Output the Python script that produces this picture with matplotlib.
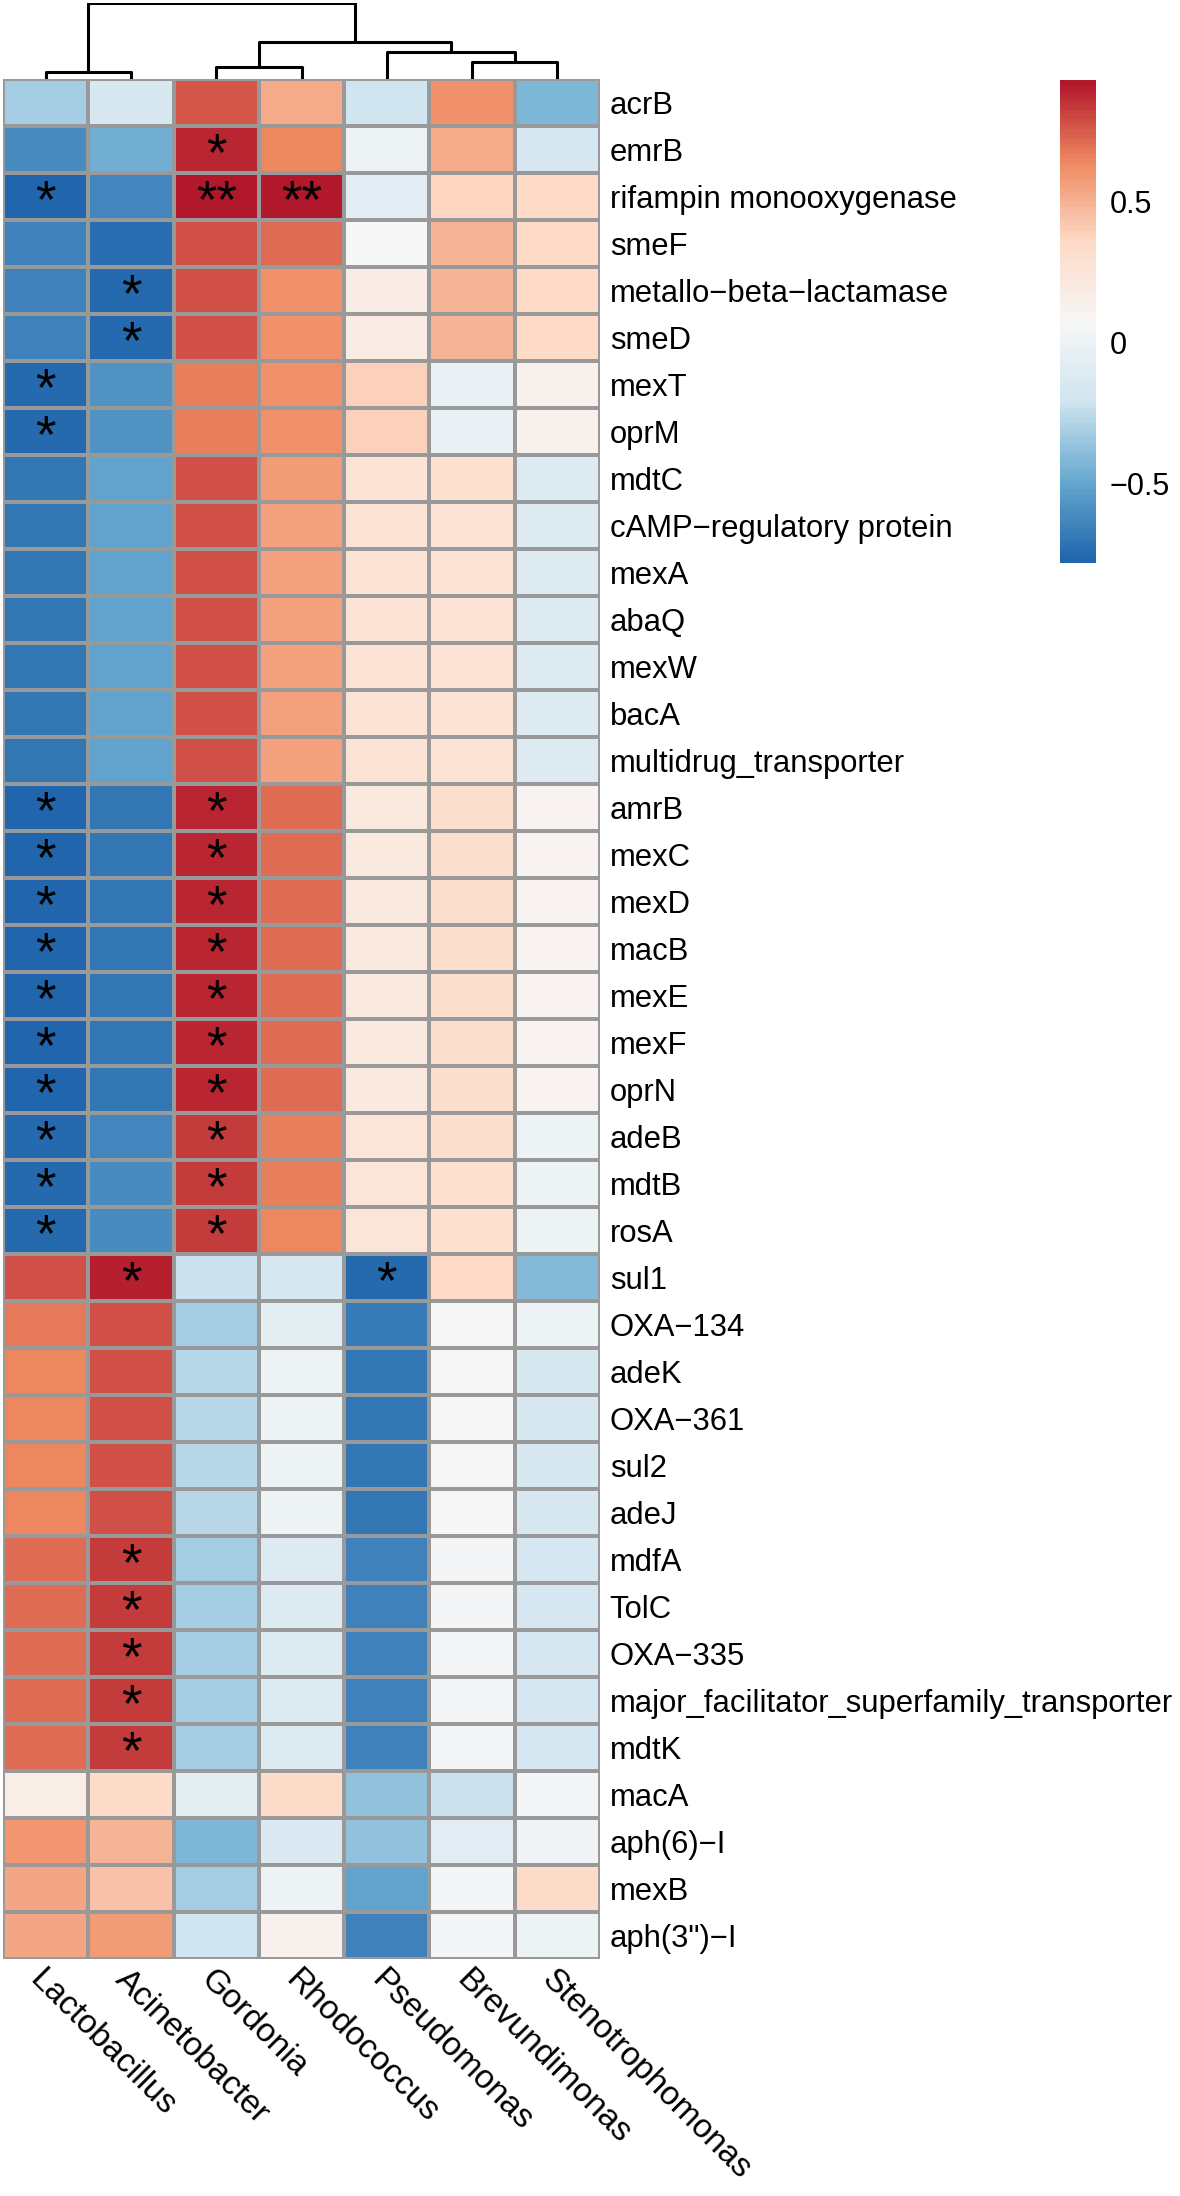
import numpy as np
import matplotlib.pyplot as plt
from matplotlib.colors import LinearSegmentedColormap, Normalize

plt.rcParams['font.family'] = ['Liberation Sans', 'DejaVu Sans']

genera = ["Lactobacillus", "Acinetobacter", "Gordonia", "Rhodococcus",
          "Pseudomonas", "Brevundimonas", "Stenotrophomonas"]

genes = ["acrB", "emrB", "rifampin monooxygenase", "smeF", "metallo\u2212beta\u2212lactamase",
         "smeD", "mexT", "oprM", "mdtC", "cAMP\u2212regulatory protein", "mexA", "abaQ",
         "mexW", "bacA", "multidrug_transporter", "amrB", "mexC", "mexD", "macB", "mexE",
         "mexF", "oprN", "adeB", "mdtB", "rosA", "sul1", "OXA\u2212134", "adeK", "OXA\u2212361",
         "sul2", "adeJ", "mdfA", "TolC", "OXA\u2212335",
         "major_facilitator_superfamily_transporter", "mdtK", "macA", "aph(6)\u2212I",
         "mexB", "aph(3\")\u2212I"]

# correlation values, one row per gene (columns in genera order)
corr = [
    [-0.33, -0.15, 0.77, 0.53, -0.20, 0.62, -0.43],
    [-0.62, -0.46, 0.88, 0.64, 0.00, 0.53, -0.17],
    [-0.78, -0.63, 0.93, 0.92, -0.08, 0.38, 0.36],
    [-0.66, -0.74, 0.78, 0.71, 0.06, 0.49, 0.36],
    [-0.66, -0.76, 0.78, 0.62, 0.19, 0.49, 0.36],
    [-0.66, -0.76, 0.78, 0.62, 0.19, 0.49, 0.36],
    [-0.75, -0.58, 0.67, 0.62, 0.39, -0.02, 0.13],
    [-0.75, -0.58, 0.67, 0.62, 0.39, -0.02, 0.13],
    [-0.70, -0.52, 0.78, 0.58, 0.27, 0.30, -0.12],
    [-0.70, -0.52, 0.78, 0.57, 0.27, 0.28, -0.12],
    [-0.70, -0.52, 0.78, 0.57, 0.27, 0.27, -0.12],
    [-0.70, -0.52, 0.78, 0.57, 0.27, 0.27, -0.12],
    [-0.70, -0.52, 0.78, 0.57, 0.27, 0.27, -0.12],
    [-0.70, -0.52, 0.78, 0.57, 0.27, 0.27, -0.12],
    [-0.70, -0.52, 0.78, 0.57, 0.27, 0.27, -0.12],
    [-0.78, -0.70, 0.89, 0.72, 0.22, 0.33, 0.11],
    [-0.78, -0.70, 0.89, 0.72, 0.22, 0.33, 0.11],
    [-0.78, -0.70, 0.89, 0.72, 0.22, 0.33, 0.11],
    [-0.78, -0.70, 0.89, 0.72, 0.22, 0.33, 0.11],
    [-0.78, -0.70, 0.89, 0.72, 0.22, 0.33, 0.11],
    [-0.78, -0.70, 0.89, 0.72, 0.22, 0.33, 0.11],
    [-0.78, -0.70, 0.89, 0.72, 0.22, 0.33, 0.11],
    [-0.76, -0.63, 0.84, 0.66, 0.25, 0.32, 0.00],
    [-0.76, -0.62, 0.84, 0.66, 0.25, 0.31, 0.00],
    [-0.76, -0.62, 0.84, 0.64, 0.25, 0.31, 0.00],
    [0.78, 0.90, -0.23, -0.17, -0.76, 0.35, -0.41],
    [0.68, 0.78, -0.33, -0.07, -0.69, 0.06, 0.00],
    [0.65, 0.78, -0.27, -0.01, -0.70, 0.06, -0.16],
    [0.65, 0.78, -0.27, -0.01, -0.70, 0.06, -0.16],
    [0.65, 0.78, -0.27, -0.01, -0.70, 0.06, -0.16],
    [0.65, 0.78, -0.27, -0.01, -0.70, 0.06, -0.16],
    [0.72, 0.84, -0.33, -0.12, -0.65, 0.05, -0.17],
    [0.72, 0.84, -0.33, -0.12, -0.65, 0.05, -0.17],
    [0.72, 0.84, -0.33, -0.12, -0.65, 0.05, -0.17],
    [0.72, 0.84, -0.33, -0.12, -0.65, 0.05, -0.17],
    [0.72, 0.84, -0.33, -0.12, -0.65, 0.05, -0.17],
    [0.17, 0.34, -0.07, 0.34, -0.37, -0.22, 0.05],
    [0.60, 0.49, -0.43, -0.14, -0.37, -0.09, 0.04],
    [0.54, 0.45, -0.32, 0.00, -0.52, 0.05, 0.34],
    [0.54, 0.58, -0.20, 0.13, -0.65, 0.05, 0.00],
]

# significance marks
sig = [["" for _ in genera] for _ in genes]
sig[1][2] = "*"
sig[2][0] = "*"; sig[2][2] = "**"; sig[2][3] = "**"
sig[4][1] = "*"; sig[5][1] = "*"
sig[6][0] = "*"; sig[7][0] = "*"
for r in range(15, 25):
    sig[r][0] = "*"; sig[r][2] = "*"
sig[25][1] = "*"; sig[25][4] = "*"
for r in range(31, 36):
    sig[r][1] = "*"

# column tree: (left node, right node, height); leaves are 0..6, new nodes from 7
tree = [(0, 1, 0.09), (2, 3, 0.161), (5, 6, 0.229), (4, 9, 0.35), (8, 10, 0.484), (7, 11, 1.0)]

data = np.array(corr)
nrow, ncol = data.shape
vmin, vmax = data.min(), data.max()
cmap = LinearSegmentedColormap.from_list(
    "rdbu", ["#2166AC", "#67A9CF", "#D1E5F0", "#F7F7F7", "#FDDBC7", "#EF8A62", "#B2182B"], N=100)
norm = Normalize(vmin, vmax)

W, H = 1180, 2196
fig = plt.figure(figsize=(W / 100, H / 100), dpi=100)

hm_left, hm_right, hm_top, hm_bot = 3, 600, 79, 1959
ax = fig.add_axes([hm_left / W, 1 - hm_bot / H, (hm_right - hm_left) / W, (hm_bot - hm_top) / H])
ax.pcolormesh(data, cmap=cmap, norm=norm, edgecolors="#999999", linewidth=1.6)
ax.set_xlim(0, ncol)
ax.set_ylim(nrow, 0)
for s in ax.spines.values():
    s.set_visible(False)
ax.yaxis.tick_right()
ax.set_yticks(np.arange(nrow) + 0.5, genes)
ax.set_xticks([])
ax.tick_params(axis="y", length=0, pad=7, labelsize=22.3)

for i in range(nrow):
    for j in range(ncol):
        if sig[i][j]:
            ax.text(j + 0.5, i + 0.64, sig[i][j], ha="center", va="center",
                    fontsize=38, color="black")

for j, name in enumerate(genera):
    ax.text(j + 0.5, nrow + 0.1, name, rotation=-45, rotation_mode="anchor",
            ha="left", va="top", fontsize=24)

# dendrogram
dax = fig.add_axes([hm_left / W, 1 - hm_top / H, (hm_right - hm_left) / W, 76 / H])
xs = {k: k + 0.5 for k in range(ncol)}
hs = {k: 0.0 for k in range(ncol)}
node = ncol
for a, b, h in tree:
    dax.plot([xs[a], xs[a], xs[b], xs[b]], [hs[a], h, h, hs[b]], color="black", lw=2.2,
             solid_capstyle="butt")
    xs[node] = (xs[a] + xs[b]) / 2
    hs[node] = h
    node += 1
dax.set_xlim(0, ncol)
dax.set_ylim(0, 1.0)
dax.axis("off")

# colour bar
cax = fig.add_axes([1060 / W, 1 - 563 / H, 36 / W, (563 - 80) / H])
grad = np.linspace(vmin, vmax, 256)
cax.imshow(grad[:, None], aspect="auto", cmap=cmap, norm=norm, origin="lower",
           extent=[0, 1, vmin, vmax])
cax.set_xticks([])
cax.yaxis.tick_right()
cax.set_yticks([-0.5, 0, 0.5], ["\u22120.5", "0", "0.5"])
cax.tick_params(axis="y", length=0, pad=10, labelsize=22)
for s in cax.spines.values():
    s.set_visible(False)

fig.savefig("out.png", dpi=100)
